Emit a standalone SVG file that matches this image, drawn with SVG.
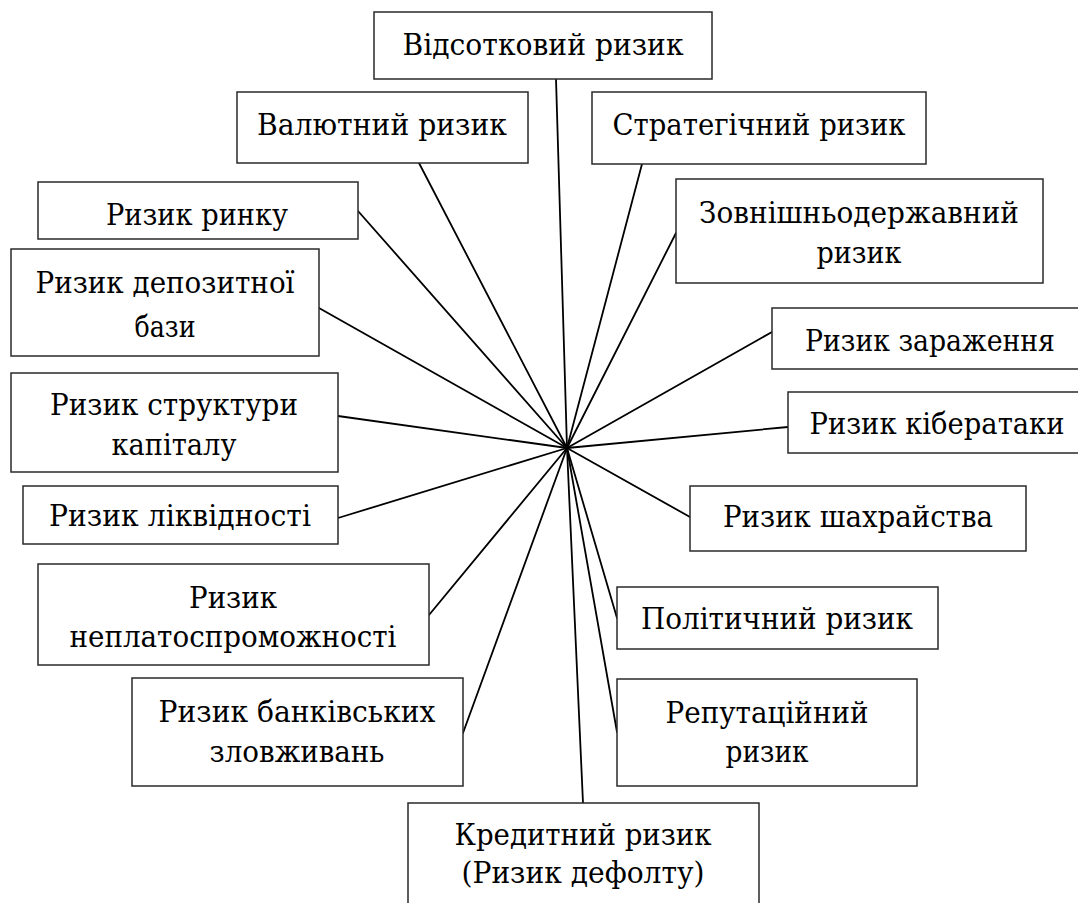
<svg xmlns="http://www.w3.org/2000/svg" width="1078" height="903" viewBox="0 0 1078 903">
<style>
.box{fill:#fff;stroke:#2a2a2a;stroke-width:1.5}
.t{font-family:"DejaVu Serif","Liberation Serif",serif;font-size:30px;fill:#000;text-anchor:middle}
.c line{stroke:#000;stroke-width:1.8;stroke-linecap:round}
</style>
<rect width="1078" height="903" fill="#fff"/>
<g class="c" id="connectors">
<line x1="567" y1="448" x2="556" y2="79"/>
<line x1="567" y1="448" x2="419" y2="163"/>
<line x1="567" y1="448" x2="642" y2="164"/>
<line x1="567" y1="448" x2="358" y2="211"/>
<line x1="567" y1="448" x2="676" y2="233"/>
<line x1="567" y1="448" x2="319" y2="308"/>
<line x1="567" y1="448" x2="772" y2="332"/>
<line x1="567" y1="448" x2="338" y2="416"/>
<line x1="567" y1="448" x2="788" y2="427"/>
<line x1="567" y1="448" x2="338" y2="518"/>
<line x1="567" y1="448" x2="690" y2="517"/>
<line x1="567" y1="448" x2="429" y2="615"/>
<line x1="567" y1="448" x2="617" y2="618"/>
<line x1="567" y1="448" x2="463" y2="733"/>
<line x1="567" y1="448" x2="617" y2="732"/>
<line x1="567" y1="448" x2="583" y2="803"/>
</g>
<g id="n1"><rect class="box" x="374" y="12" width="338" height="67"/><text class="t" x="543" y="55" textLength="281" lengthAdjust="spacingAndGlyphs">Відсотковий ризик</text></g>
<g id="n2"><rect class="box" x="237" y="92" width="291" height="71"/><text class="t" x="382" y="135" textLength="250" lengthAdjust="spacingAndGlyphs">Валютний ризик</text></g>
<g id="n3"><rect class="box" x="592" y="92" width="334" height="72"/><text class="t" x="759" y="135" textLength="293" lengthAdjust="spacingAndGlyphs">Стратегічний ризик</text></g>
<g id="n4"><rect class="box" x="38" y="182" width="320" height="57"/><text class="t" x="197" y="225" textLength="182" lengthAdjust="spacingAndGlyphs">Ризик ринку</text></g>
<g id="n5"><rect class="box" x="676" y="179" width="367" height="104"/><text class="t" x="859" y="223" textLength="320" lengthAdjust="spacingAndGlyphs">Зовнішньодержавний</text><text class="t" x="859" y="263" textLength="85" lengthAdjust="spacingAndGlyphs">ризик</text></g>
<g id="n6"><rect class="box" x="11" y="249" width="308" height="107"/><text class="t" x="165" y="293" textLength="259" lengthAdjust="spacingAndGlyphs">Ризик депозитної</text><text class="t" x="165" y="337" textLength="61" lengthAdjust="spacingAndGlyphs">бази</text></g>
<g id="n7"><path class="box" d="M1078 308 H772 V369 H1078"/><text class="t" x="930" y="351" textLength="250" lengthAdjust="spacingAndGlyphs">Ризик зараження</text></g>
<g id="n8"><rect class="box" x="11" y="373" width="327" height="99"/><text class="t" x="174" y="415" textLength="248" lengthAdjust="spacingAndGlyphs">Ризик структури</text><text class="t" x="174" y="455" textLength="125" lengthAdjust="spacingAndGlyphs">капіталу</text></g>
<g id="n9"><path class="box" d="M1078 392 H788 V453 H1078"/><text class="t" x="937" y="434" textLength="255" lengthAdjust="spacingAndGlyphs">Ризик кібератаки</text></g>
<g id="n10"><rect class="box" x="23" y="486" width="315" height="58"/><text class="t" x="180" y="526" textLength="262" lengthAdjust="spacingAndGlyphs">Ризик ліквідності</text></g>
<g id="n11"><rect class="box" x="690" y="486" width="336" height="65"/><text class="t" x="858" y="527" textLength="270" lengthAdjust="spacingAndGlyphs">Ризик шахрайства</text></g>
<g id="n12"><rect class="box" x="38" y="564" width="391" height="101"/><text class="t" x="233" y="608" textLength="88" lengthAdjust="spacingAndGlyphs">Ризик</text><text class="t" x="233" y="647" textLength="327" lengthAdjust="spacingAndGlyphs">неплатоспроможності</text></g>
<g id="n13"><rect class="box" x="617" y="587" width="321" height="62"/><text class="t" x="777" y="629" textLength="272" lengthAdjust="spacingAndGlyphs">Політичний ризик</text></g>
<g id="n14"><rect class="box" x="132" y="678" width="331" height="108"/><text class="t" x="297" y="722" textLength="277" lengthAdjust="spacingAndGlyphs">Ризик банківських</text><text class="t" x="297" y="762" textLength="175" lengthAdjust="spacingAndGlyphs">зловживань</text></g>
<g id="n15"><rect class="box" x="617" y="679" width="300" height="107"/><text class="t" x="767" y="723" textLength="203" lengthAdjust="spacingAndGlyphs">Репутаційний</text><text class="t" x="767" y="762" textLength="83" lengthAdjust="spacingAndGlyphs">ризик</text></g>
<g id="n16"><path class="box" d="M408 903 V803 H759 V903"/><text class="t" x="583" y="845" textLength="257" lengthAdjust="spacingAndGlyphs">Кредитний ризик</text><text class="t" x="583" y="883" textLength="243" lengthAdjust="spacingAndGlyphs">(Ризик дефолту)</text></g>
</svg>
